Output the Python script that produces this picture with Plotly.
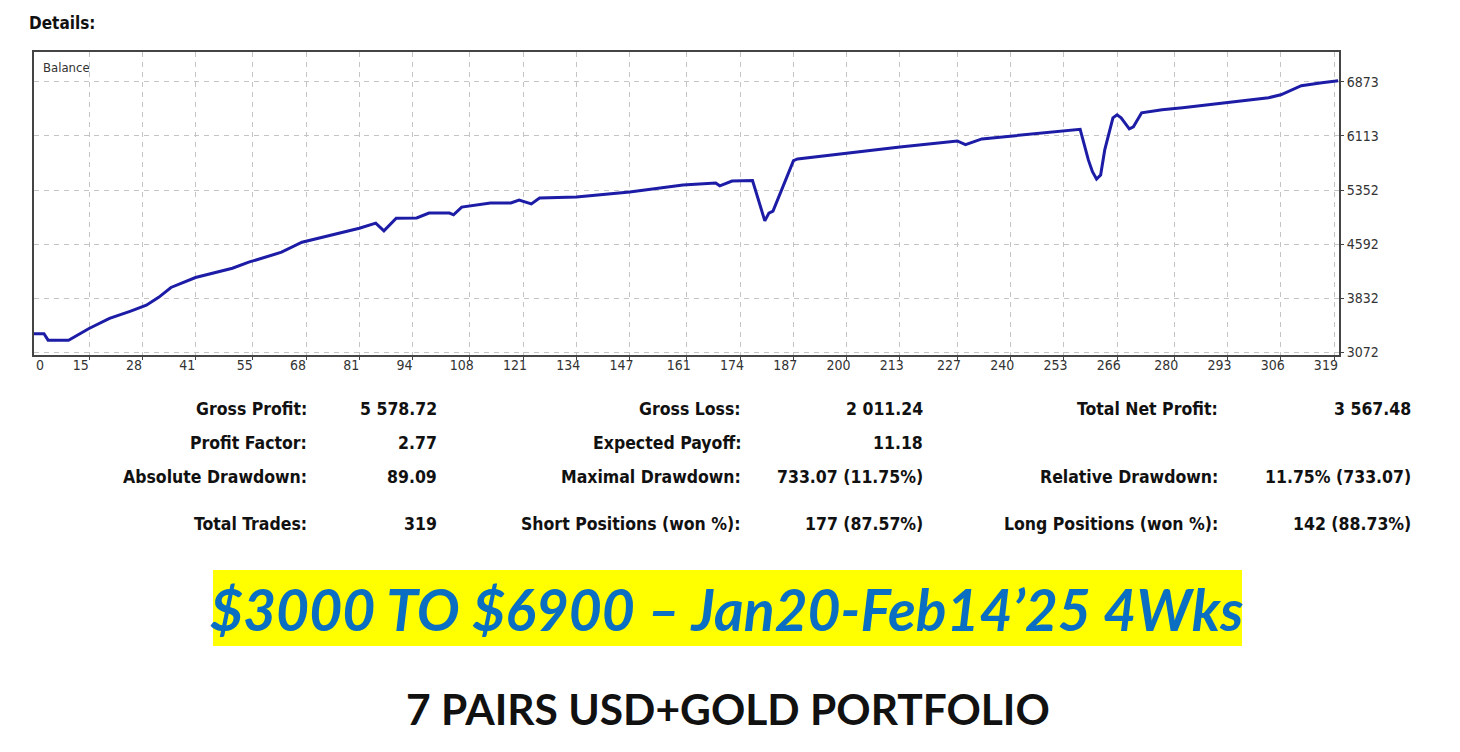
import plotly.graph_objects as go

# ---- data ----
trade_no = [1, 4, 5, 10, 15, 20, 25, 29, 32, 35, 41, 50, 54, 62, 67, 74, 81, 85, 87, 90,
            95, 98, 103, 104, 106, 113, 118, 120, 123, 125, 134, 147, 160, 168, 169, 172,
            177, 180, 181, 182, 187, 188, 200, 213, 227, 229, 233, 238, 253, 257, 259, 260,
            261, 262, 263, 265, 266, 267, 269, 270, 272, 277, 282, 292, 303, 306, 311, 316, 320]
balance = [3335, 3335, 3245, 3245, 3409, 3550, 3650, 3735, 3846, 3985, 4125, 4255, 4340, 4480,
           4620, 4720, 4817, 4888, 4780, 4958, 4960, 5029, 5030, 5005, 5113, 5169, 5172, 5212,
           5158, 5240, 5254, 5324, 5423, 5451, 5412, 5479, 5485, 4920, 5029, 5057, 5765, 5789,
           5873, 5958, 6042, 5990, 6070, 6099, 6190, 6205, 5775, 5610, 5507, 5564, 5916, 6366,
           6408, 6366, 6211, 6239, 6436, 6479, 6507, 6577, 6648, 6690, 6817, 6859, 6887]

x_tick_labels = [0, 15, 28, 41, 55, 68, 81, 94, 108, 121, 134, 147, 161, 174, 187, 200,
                 213, 227, 240, 253, 266, 280, 293, 306, 319]
y_tick_values = [3072, 3832, 4592, 5352, 6113, 6873]

col1_labels = ["Gross Profit:", "Profit Factor:", "Absolute Drawdown:", "Total Trades:"]
col1_values = ["5 578.72", "2.77", "89.09", "319"]
col2_labels = ["Gross Loss:", "Expected Payoff:", "Maximal Drawdown:", "Short Positions (won %):"]
col2_values = ["2 011.24", "11.18", "733.07 (11.75%)", "177 (87.57%)"]
col3_labels = ["Total Net Profit:", "", "Relative Drawdown:", "Long Positions (won %):"]
col3_values = ["3 567.48", "", "11.75% (733.07)", "142 (88.73%)"]

headline = "$3000 TO $6900 \u2013 Jan20-Feb14\u201925 4Wks"
subline = "7 PAIRS USD+GOLD PORTFOLIO"

# ---- layout geometry (pixels) ----
FW, FH = 1460, 752
L, R, T, B = 34, 1339, 52, 355
PW, PH = R - L, B - T
X_RANGE = [1.56, 320.2]
Y_RANGE = [3037, 7290]
UI = "DejaVu Sans Condensed"


def px(x):
    return (x - L) / PW


def py(y):
    return (B - y) / PH


fig = go.Figure()
fig.add_trace(go.Scatter(x=trade_no, y=balance, mode="lines",
                         line=dict(color="#1c1ca6", width=3),
                         hoverinfo="skip", showlegend=False))
fig.add_trace(go.Scatter(x=[], y=[], xaxis="x2", showlegend=False, hoverinfo="skip"))

grid_vals = x_tick_labels[1:]
label_pos = [3.0] + [v - 2.0 for v in grid_vals]

fig.update_layout(
    width=FW, height=FH,
    margin=dict(l=L, r=FW - R, t=T, b=FH - B, pad=0),
    paper_bgcolor="white", plot_bgcolor="white",
    showlegend=False,
    xaxis=dict(range=X_RANGE, tickvals=grid_vals, showticklabels=False,
               ticks="outside", ticklen=3, tickcolor="#444",
               showgrid=True, gridcolor="#c4c4c4", gridwidth=1, griddash="5px,5px",
               showline=True, linecolor="#444", linewidth=2, mirror=True, zeroline=False),
    xaxis2=dict(range=X_RANGE, overlaying="x", anchor="y", side="bottom",
                tickvals=label_pos, ticktext=[str(v) for v in x_tick_labels],
                ticks="", showgrid=False, showline=False, zeroline=False,
                tickfont=dict(family=UI, size=14, color="#333")),
    yaxis=dict(range=Y_RANGE, side="right", tickvals=y_tick_values,
               ticks="outside", ticklen=3, tickcolor="#444",
               showgrid=True, gridcolor="#c4c4c4", gridwidth=1, griddash="5px,5px",
               showline=True, linecolor="#444", linewidth=2, mirror=True, zeroline=False,
               tickfont=dict(family=UI, size=14, color="#333")),
)

ann = []
ann.append(dict(text="<b>Details:</b>", x=px(27), y=py(23), xanchor="left", yanchor="middle",
                font=dict(family=UI, size=17, color="#111")))
ann.append(dict(text="Balance", x=px(41), y=py(67), xanchor="left", yanchor="middle",
                font=dict(family=UI, size=13, color="#333")))

row_y = [409, 443, 477, 524]
cols = [(col1_labels, 309), (col1_values, 439), (col2_labels, 743), (col2_values, 925),
        (col3_labels, 1220), (col3_values, 1413)]
for texts, xr in cols:
    for t, yy in zip(texts, row_y):
        if not t:
            continue
        ann.append(dict(text="<b>%s</b>" % t, x=px(xr), y=py(yy), xanchor="right",
                        yanchor="middle", font=dict(family=UI, size=17.5, color="#111")))

ann.append(dict(text="<b><i>%s</i></b>" % headline, x=px(727), y=py(609), xanchor="center",
                yanchor="middle", font=dict(family="Lato", size=57, color="#0a6fc2")))
ann.append(dict(text="<b>%s</b>" % subline, x=px(728), y=py(708), xanchor="center",
                yanchor="middle", font=dict(family="Lato", size=42.5, color="#111")))

for a in ann:
    a.update(xref="paper", yref="paper", showarrow=False)
fig.update_layout(annotations=ann)

fig.add_shape(type="rect", xref="paper", yref="paper", x0=px(213), x1=px(1242),
              y0=py(646), y1=py(570), fillcolor="#ffff00", line=dict(width=0), layer="below")

fig.write_html("out.html", config={"displayModeBar": False},
               post_script="document.body.style.margin='0px';")
